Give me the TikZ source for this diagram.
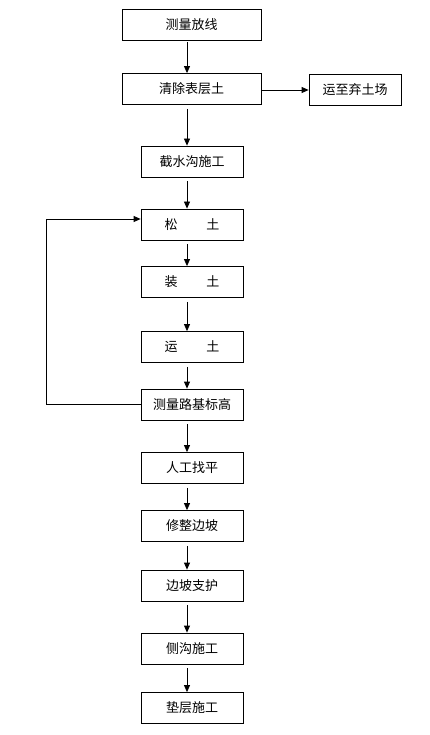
\documentclass[tikz,border=0pt]{standalone}
\usepackage{fontspec}
\setmainfont{Noto Sans CJK SC}
\usetikzlibrary{arrows.meta, positioning}
\tikzset{
  stepbox/.style  = {rectangle, draw=black, line width=0.8pt, minimum width=102pt, minimum height=31pt, inner sep=0pt, align=center, font=\fontsize{13}{15}\selectfont},
  widebox/.style  = {stepbox, minimum width=139pt},
  sidebox/.style  = {stepbox, minimum width=92pt},
  flow/.style     = {-{Triangle[length=7pt,width=6pt]}, line width=0.8pt, black},
  loopline/.style = {line width=0.8pt, black},
}

\begin{document}
\begin{tikzpicture}[x=1pt, y=-1pt]
  \useasboundingbox (0,0) rectangle (430,735);

  % 主流程
  \node[widebox] (celiangfx) at (191.5,24.5) {测量放线};
  \node[widebox] (qingchu)   at (191.5,89)   {清除表层土};
  \node[sidebox] (qitu)      at (355,90)     {运至弃土场};
  \node[stepbox] (jieshui)   at (192,161.5)  {截水沟施工};
  \node[stepbox] (songtu)    at (192,224.5)  {松\hspace{2.2em}土};
  \node[stepbox] (zhuangtu)  at (192,282)    {装\hspace{2.2em}土};
  \node[stepbox] (yuntu)     at (192,347)    {运\hspace{2.2em}土};
  \node[stepbox] (biaogao)   at (192,404.5)  {测量路基标高};
  \node[stepbox] (zhaoping)  at (192,468)    {人工找平};
  \node[stepbox] (xiuzheng)  at (192,526)    {修整边坡};
  \node[stepbox] (zhihu)     at (192,585.5)  {边坡支护};
  \node[stepbox] (cegou)     at (192,648.5)  {侧沟施工};
  \node[stepbox] (dianceng)  at (192,708)    {垫层施工};

  % 竖向箭头
  \draw[flow, shorten <=2pt] (celiangfx.south -| 187,0) -- (qingchu.north -| 187,0);
  \draw[flow, shorten <=4pt] (qingchu.south -| 187,0) -- (jieshui.north -| 187,0);
  \foreach \a/\b in {jieshui/songtu, songtu/zhuangtu, zhuangtu/yuntu, yuntu/biaogao,
                     biaogao/zhaoping, zhaoping/xiuzheng, xiuzheng/zhihu, zhihu/cegou, cegou/dianceng}
    \draw[flow, shorten <=4pt] (\a.south -| 187,0) -- (\b.north -| 187,0);

  % 弃土
  \draw[flow] (qingchu.east |- qitu) -- (qitu.west);

  % 回路：测量路基标高 -> 松土
  \coordinate (loopbot) at (46,404.5);
  \coordinate (looptop) at (46,219);
  \draw[loopline] (biaogao.west) -- (loopbot) -- (looptop);
  \draw[flow] (looptop) -- (songtu.west |- looptop);
\end{tikzpicture}
\end{document}
